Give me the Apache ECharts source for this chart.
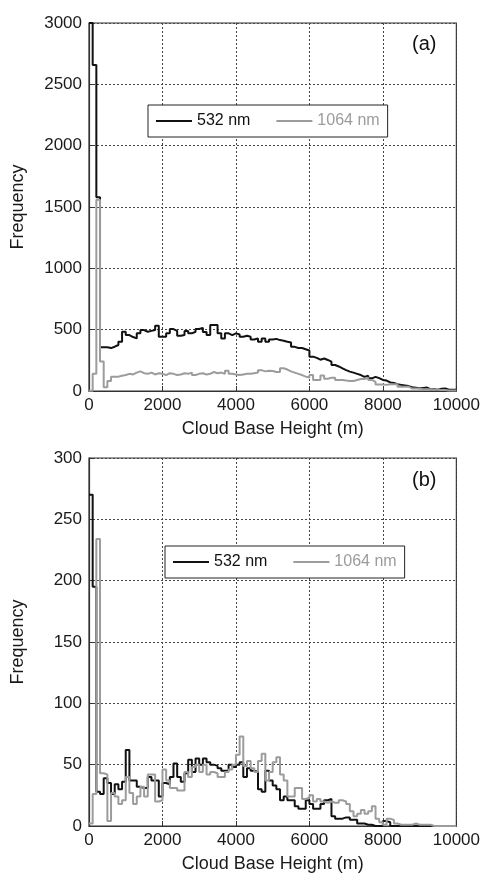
<!DOCTYPE html>
<html><head><meta charset="utf-8">
<script src="https://cdn.jsdelivr.net/npm/echarts@6/dist/echarts.min.js"></script>
<style>html,body{margin:0;padding:0;background:#fff}#c{width:483px;height:875px}</style>
</head><body><div id="c"></div>
<script>
// Histogram bin width (m); bins start at 0
const binWidth = 100;
const seriesNames = ['532 nm', '1064 nm'];
const panelLabels = ['(a)', '(b)'];
const xLabel = 'Cloud Base Height (m)';
const yLabel = 'Frequency';

// Panel (a): counts per 100 m bin
const topBlack = [3000,2657,1580,356,356,350,361,375,402,483,456,440,429,470,497,483,490,497,532,443,
  443,470,505,490,450,456,490,470,483,505,515,480,456,538,538,470,429,470,456,470,
  460,443,450,443,420,429,402,429,402,420,425,415,410,402,395,360,350,350,340,330,
  280,270,255,265,253,239,212,200,185,170,158,150,140,130,115,125,103,115,105,90,
  85,70,65,55,50,45,40,30,27,22,25,28,15,15,10,18,20,10,10,10];
const topGray = [3,140,1560,240,30,82,117,117,125,130,140,135,150,160,145,140,150,135,145,140,
  130,145,140,130,135,145,140,150,130,140,145,135,140,155,145,150,140,165,140,135,
  130,135,140,140,145,150,170,160,165,163,155,155,185,175,160,150,140,130,117,110,
  130,90,90,126,100,108,108,90,90,85,82,82,90,98,98,108,90,75,54,54,
  50,55,55,55,35,35,35,20,20,20,15,15,15,10,10,8,8,5,5,5];

// Panel (b): counts per 100 m bin
const botBlack = [270,195,28,26,39,35,26,34,30,36,62,37,37,32,31,31,40,37,37,24,
  35,34,40,51,40,36,43,54,44,55,50,55,52,50,49,47,45,45,50,48,
  50,52,40,47,45,44,30,28,45,37,33,30,21,24,21,21,16,14,14,21,
  18,14,14,18,21,22,8,6,6,7,7,5,5,2,2,1,1,0,0,0,
  4,3,0,0,0,0,0,0,0,0,0,0,0,0,0,0,0,0,0,0];
const botGray = [2,26,234,43,42,4,27,24,18,21,40,27,18,24,32,24,42,42,20,21,
  46,37,31,31,29,29,44,40,48,50,44,50,42,44,43,40,40,44,46,50,
  58,73,49,53,47,44,53,59,37,44,52,56,42,37,24,24,31,31,22,23,
  25,20,22,20,19,20,19,19,21,20,18,12,8,10,13,10,12,16,6,3,
  1,6,5,2,1,1,1,1,2,1,1,1,1,0,0,0,0,0,0,0];

const xMin = 0, xMax = 10000, xStep = 2000;
const yTop = {min:0, max:3000, step:500};
const yBot = {min:0, max:300, step:50};

function steps(vals){
  const d = vals.map((v,i)=>[i*binWidth, v]);
  d.push([vals.length*binWidth, vals[vals.length-1]]);
  return d;
}
const plain = v => String(v);

const FONT = 'Liberation Sans, Arial, Helvetica, sans-serif';
const BLACK = '#111', GRAY = '#9c9c9c';
const grids = [
  {left:89, top:23, width:369, height:368},
  {left:89, top:458, width:369, height:368}
];
grids.forEach(g=>{g.show=true; g.borderColor='#333'; g.borderWidth=1.2; g.backgroundColor='#fff';});

function xAxisFor(i){
  return {type:'value', gridIndex:i, min:xMin, max:xMax, interval:xStep,
    name:xLabel, nameLocation:'middle', nameGap:29,
    nameTextStyle:{fontFamily:FONT, fontSize:18, color:'#1a1a1a'},
    axisLine:{show:true, lineStyle:{color:'#333', width:1.2}},
    axisTick:{show:true, inside:true, length:5, lineStyle:{color:'#333'}},
    axisLabel:{fontFamily:FONT, fontSize:17, color:'#1a1a1a', margin:6, formatter:plain},
    splitLine:{show:true, lineStyle:{color:'#444', width:1, type:[2,2]}}
  };
}
function yAxisFor(i, r){
  return {type:'value', gridIndex:i, min:r.min, max:r.max, interval:r.step,
    name:yLabel, nameLocation:'middle', nameGap:62,
    nameTextStyle:{fontFamily:FONT, fontSize:18, color:'#1a1a1a'},
    axisLine:{show:true, lineStyle:{color:'#333', width:1.2}},
    axisTick:{show:true, inside:true, length:5, lineStyle:{color:'#333'}},
    axisLabel:{fontFamily:FONT, fontSize:17, color:'#1a1a1a', margin:7, formatter:plain},
    splitLine:{show:true, lineStyle:{color:'#444', width:1, type:[2,2]}}
  };
}
function lineSeries(name, vals, idx, color){
  return {name, type:'line', step:'end', xAxisIndex:idx, yAxisIndex:idx,
    data:steps(vals), symbol:'none', clip:true,
    lineStyle:{color, width:2}, itemStyle:{color}, animation:false};
}
function legendFor(left, top){
  return {left, top, orient:'horizontal', backgroundColor:'#fff',
    borderColor:'#222', borderWidth:1, borderRadius:0, padding:[8,8,8,8],
    icon:'rect', itemWidth:36, itemHeight:2, itemGap:26, itemTextGap:5,
    textStyle:{fontFamily:FONT, fontSize:16},
    data:[{name:seriesNames[0], textStyle:{color:BLACK}}, {name:seriesNames[1], textStyle:{color:GRAY}}]};
}

const chart = echarts.init(document.getElementById('c'), null, {renderer:'canvas'});
chart.setOption({
  animation:false,
  backgroundColor:'#fff',
  grid:grids,
  xAxis:[xAxisFor(0), xAxisFor(1)],
  yAxis:[yAxisFor(0, yTop), yAxisFor(1, yBot)],
  legend:[legendFor(148,105), legendFor(165,546)],
  series:[
    lineSeries(seriesNames[0], topBlack, 0, BLACK),
    lineSeries(seriesNames[1], topGray, 0, GRAY),
    lineSeries(seriesNames[0], botBlack, 1, BLACK),
    lineSeries(seriesNames[1], botGray, 1, GRAY)
  ],
  graphic:[
    {type:'text', left:412, top:34, style:{text:panelLabels[0], font:'20px '+FONT, fill:'#111'}},
    {type:'text', left:412, top:470, style:{text:panelLabels[1], font:'20px '+FONT, fill:'#111'}}
  ]
});
</script></body></html>
